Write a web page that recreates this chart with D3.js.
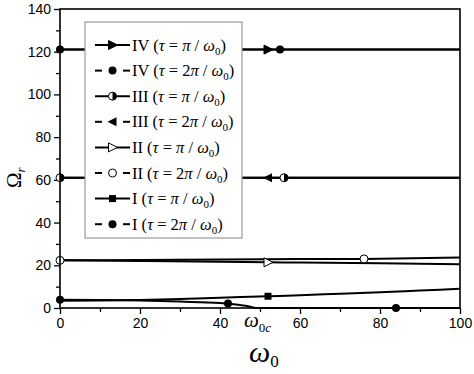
<!DOCTYPE html>
<html>
<head>
<meta charset="utf-8">
<script src="https://cdn.jsdelivr.net/npm/d3@7"></script>
<style>
  body { margin: 0; background: #fff; }
  svg { display: block; }
  .tick text { font-family: "Liberation Sans", Arial, sans-serif; font-size: 14px; fill: #000; }
  .serif { font-family: "Liberation Serif", "Times New Roman", serif; }
</style>
</head>
<body>
<svg id="drawing_region"></svg>
<script>
// values (x = omega0, y = Omega_r)
var xTicks = [0, 20, 40, 60, 80, 100];
var yTicks = [0, 20, 40, 60, 80, 100, 120, 140];

var IV_pi   = [[0, 121], [100, 121]];
var IV_2pi  = [[0, 121], [100, 121]];
var III_pi  = [[0, 61], [100, 61]];
var III_2pi = [[0, 61], [100, 61]];
var II_pi   = [[0, 22.3], [20, 22.0], [40, 21.6], [52, 21.4], [60, 21.3], [80, 20.9], [100, 20.5]];
var II_2pi  = [[0, 22.3], [20, 22.5], [40, 22.7], [60, 22.9], [76, 23.0], [100, 23.6]];
var I_pi    = [[0, 3.4], [10, 3.5], [20, 3.8], [30, 4.2], [40, 4.8], [52, 5.5], [60, 6.0], [70, 6.7], [80, 7.4], [90, 8.2], [100, 9.0]];
var I_2pi   = [[0, 3.9], [10, 3.8], [20, 3.5], [30, 3.0], [40, 2.3], [44, 1.6], [47, 0.8], [49, 0], [100, 0]];

// marker positions along each curve
var IV_pi_m   = [[52, 121]];
var IV_2pi_m  = [[0, 121], [55, 121]];
var III_pi_m  = [[0, 61], [56, 61]];
var III_2pi_m = [[52, 61]];
var II_pi_m   = [[52, 21.4]];
var II_2pi_m  = [[0, 22.3], [76, 23.0]];
var I_pi_m    = [[52, 5.5]];
var I_2pi_m   = [[0, 3.9], [42, 2.1], [84, 0]];

var numerals = ["IV", "IV", "III", "III", "II", "II", "I", "I"];
var taus     = ["", "2", "", "2", "", "2", "", "2"];

var series = [
  { data: IV_pi,   marks: IV_pi_m,   shape: "triR",  dash: false },
  { data: IV_2pi,  marks: IV_2pi_m,  shape: "dot",   dash: true },
  { data: III_pi,  marks: III_pi_m,  shape: "half",  dash: false },
  { data: III_2pi, marks: III_2pi_m, shape: "triL",  dash: true },
  { data: II_pi,   marks: II_pi_m,   shape: "triRo", dash: false },
  { data: II_2pi,  marks: II_2pi_m,  shape: "circ",  dash: true },
  { data: I_pi,    marks: I_pi_m,    shape: "sq",    dash: false },
  { data: I_2pi,   marks: I_2pi_m,   shape: "dot",   dash: true }
];

var width = 474, height = 374;
var margin = { top: 9, right: 14, bottom: 66, left: 60 };
var iw = width - margin.left - margin.right;
var ih = height - margin.top - margin.bottom;

var svg = d3.select('#drawing_region').attr('width', width).attr('height', height);
var chart = svg.append('g').attr('transform', `translate(${margin.left}, ${margin.top})`);

var xscale = d3.scaleLinear().domain([0, 100]).range([0, iw]);
var yscale = d3.scaleLinear().domain([0, 140]).range([ih, 0]);

// minor ticks
chart.append('g').attr('transform', `translate(0, ${ih})`)
  .call(d3.axisBottom(xscale).tickValues(d3.range(10, 100, 20)).tickSize(4).tickFormat(''))
  .call(g => g.select('.domain').remove());
chart.append('g')
  .call(d3.axisLeft(yscale).tickValues(d3.range(10, 140, 20)).tickSize(4).tickFormat(''))
  .call(g => g.select('.domain').remove());

// major ticks
chart.append('g').attr('transform', `translate(0, ${ih})`)
  .call(d3.axisBottom(xscale).tickValues(xTicks).tickSize(6).tickPadding(4))
  .call(g => g.select('.domain').remove());
chart.append('g')
  .call(d3.axisLeft(yscale).tickValues(yTicks).tickSize(6).tickPadding(3))
  .call(g => g.select('.domain').remove());
chart.selectAll('.tick line').attr('stroke', '#000').attr('stroke-width', 1.3);

var line = d3.line().x(d => xscale(d[0])).y(d => yscale(d[1])).curve(d3.curveMonotoneX);

series.forEach(s => {
  chart.append('path')
    .attr('d', line(s.data))
    .attr('fill', 'none')
    .attr('stroke', '#000')
    .attr('stroke-width', 2);
});

function drawMarker(g, shape, x, y) {
  if (shape === 'triR' || shape === 'triRo') {
    g.append('path').attr('d', `M${x - 4},${y - 4.5}L${x + 5},${y}L${x - 4},${y + 4.5}Z`)
      .attr('fill', shape === 'triR' ? '#000' : '#fff').attr('stroke', '#000').attr('stroke-width', 1);
  } else if (shape === 'triL') {
    g.append('path').attr('d', `M${x + 4},${y - 4.5}L${x - 5},${y}L${x + 4},${y + 4.5}Z`)
      .attr('fill', '#000');
  } else if (shape === 'dot') {
    g.append('circle').attr('cx', x).attr('cy', y).attr('r', 4).attr('fill', '#000');
  } else if (shape === 'circ') {
    g.append('circle').attr('cx', x).attr('cy', y).attr('r', 4).attr('fill', '#fff')
      .attr('stroke', '#000').attr('stroke-width', 1);
  } else if (shape === 'half') {
    g.append('circle').attr('cx', x).attr('cy', y).attr('r', 4).attr('fill', '#fff')
      .attr('stroke', '#000').attr('stroke-width', 1);
    g.append('path').attr('d', `M${x},${y - 4}A4,4 0 0 1 ${x},${y + 4}Z`).attr('fill', '#000');
  } else if (shape === 'sq') {
    g.append('rect').attr('x', x - 3.5).attr('y', y - 3.5).attr('width', 7).attr('height', 7).attr('fill', '#000');
  }
}

var markG = chart.append('g');
series.forEach(s => {
  s.marks.forEach(m => drawMarker(markG, s.shape, xscale(m[0]), yscale(m[1])));
});

// frame
chart.append('rect')
  .attr('x', 0).attr('y', 0).attr('width', iw).attr('height', ih)
  .attr('fill', 'none').attr('stroke', '#000').attr('stroke-width', 1.6);

// legend
var legend = svg.append('g').attr('transform', 'translate(85, 22)');
legend.append('rect').attr('width', 157).attr('height', 216)
  .attr('fill', '#fff').attr('stroke', '#999').attr('stroke-width', 1.2);

series.forEach((s, i) => {
  var row = legend.append('g').attr('transform', `translate(0, ${23 + i * 25.6})`);
  if (s.dash) {
    row.append('line').attr('x1', 10).attr('x2', 17).attr('stroke', '#000').attr('stroke-width', 2);
    row.append('line').attr('x1', 38).attr('x2', 45).attr('stroke', '#000').attr('stroke-width', 2);
  } else {
    row.append('line').attr('x1', 10).attr('x2', 45).attr('stroke', '#000').attr('stroke-width', 2);
  }
  drawMarker(row, s.shape, 27.5, 0);
  var t = row.append('text').attr('class', 'serif').attr('x', 47).attr('y', 5.5)
    .attr('font-size', 16.5).attr('fill', '#000');
  t.append('tspan').text(numerals[i] + ' (');
  t.append('tspan').attr('font-style', 'italic').text('τ');
  t.append('tspan').text(' = ' + taus[i]);
  t.append('tspan').attr('font-style', 'italic').text('π');
  t.append('tspan').text(' / ');
  t.append('tspan').attr('font-style', 'italic').text('ω');
  t.append('tspan').attr('font-size', 11).attr('dy', 4).text('0');
  t.append('tspan').attr('dy', -4).text(')');
});

// omega_0c annotation
var ann = svg.append('text').attr('class', 'serif')
  .attr('x', xscale(49) + margin.left - 12).attr('y', 327).attr('font-size', 21).attr('fill', '#000');
ann.append('tspan').attr('font-style', 'italic').text('ω');
ann.append('tspan').attr('font-size', 13).attr('dy', 5).text('0');
ann.append('tspan').attr('font-size', 13).attr('font-style', 'italic').text('c');

// axis titles
var xl = svg.append('text').attr('class', 'serif')
  .attr('x', 249).attr('y', 362).attr('font-size', 30).attr('fill', '#000');
xl.append('tspan').attr('font-style', 'italic').text('ω');
xl.append('tspan').attr('font-size', 17).attr('dy', 5).text('0');

var yl = svg.append('text').attr('class', 'serif')
  .attr('transform', 'translate(21, 188) rotate(-90)').attr('font-size', 21).attr('fill', '#000');
yl.append('tspan').text('Ω');
yl.append('tspan').attr('font-size', 13).attr('font-style', 'italic').attr('dy', 4).text('r');
</script>
</body>
</html>
